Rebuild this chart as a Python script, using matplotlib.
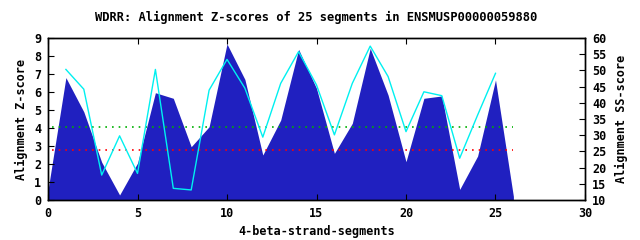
import matplotlib
matplotlib.use("Agg")
import matplotlib.pyplot as plt

plt.rcParams['font.family'] = ['DejaVu Sans Mono']
plt.rcParams['font.weight'] = 'bold'

title = "WDRR: Alignment Z-scores of 25 segments in ENSMUSP00000059880"
z_x = list(range(0, 27))
z_vals = [0.55, 6.8, 4.9, 2.1, 0.28, 2.05, 5.96, 5.65, 2.96, 4.07, 8.67,
          6.7, 2.5, 4.44, 8.37, 6.2, 2.59, 4.26, 8.43, 5.83, 2.13, 5.65,
          5.78, 0.59, 2.44, 6.67, 0.2]
ss_x = list(range(1, 26))
ss_vals = [50.3, 44.2, 17.7, 29.8, 18.2, 50.3, 13.6, 13.1, 43.9, 53.4,
           44.5, 29.4, 46.0, 55.8, 45.5, 30.1, 46.0, 57.5, 48.1, 31.1,
           43.4, 42.2, 22.9, 36.2, 49.1]
green_level = 4.04
red_level = 2.78
line_span = [0.2, 26]

fig = plt.figure(figsize=(6.4, 2.4), dpi=100)
ax = fig.add_axes([48/640, 1-200/240, (585-48)/640, (200-38)/240])
ax.fill_between(z_x, 0, z_vals, color='#2020c0', linewidth=0)
ax.plot(line_span, [green_level]*2, linestyle=(0, (1, 3)), color='#00b000', linewidth=1.2)
ax.plot(line_span, [red_level]*2, linestyle=(0, (1, 3)), color='#ff0000', linewidth=1.2)
ax.set_xlim(0, 30)
ax.set_ylim(0, 9)
ax.set_xticks(range(0, 31, 5))
ax.set_yticks(range(0, 10))
ax.tick_params(axis='x', direction='in', top=True, length=4, labelsize=8.5, pad=5)
ax.tick_params(axis='y', direction='in', right=False, length=4, labelsize=8.5, pad=5)
ax.set_xlabel("4-beta-strand-segments", fontsize=8.5, fontweight='bold')
ax.set_ylabel("Alignment Z-score", fontsize=8.5, fontweight='bold', labelpad=4)
ax.set_title(title, fontsize=8.7, fontweight='bold', pad=12)

ax2 = ax.twinx()
ax2.plot(ss_x, ss_vals, color='#00f0f0', linewidth=1.0)
ax2.set_ylim(10, 60)
ax2.set_yticks(range(10, 61, 5))
ax2.tick_params(axis='y', direction='in', length=4, labelsize=8.5, pad=5)
ax2.set_ylabel("Alignment SS-score", fontsize=8.5, fontweight='bold', labelpad=6)
for a in (ax, ax2):
    for s in a.spines.values():
        s.set_linewidth(1.0)

fig.savefig("out.png", dpi=100)
